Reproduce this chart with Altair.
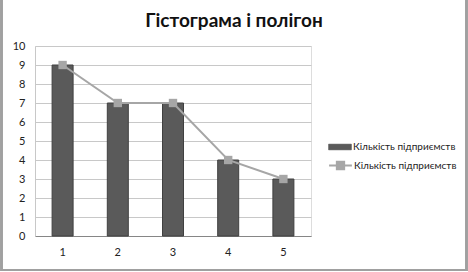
import altair as alt
import pandas as pd

categories = ["1", "2", "3", "4", "5"]
counts = [9, 7, 7, 4, 3]
series_name = "Кількість підприємств"
title_text = "Гістограма і полігон"

FONT = "Lato"

df = pd.DataFrame({"cat": categories, "count": counts, "bar_s": series_name, "line_s": series_name})

x_enc = alt.X("cat:N", sort=categories, scale=alt.Scale(paddingInner=0, paddingOuter=0),
              axis=alt.Axis(title=None, labelAngle=0, ticks=False, labelPadding=10,
                            domainColor="#868686", labelFontSize=11, labelColor="#222",
                            labelFont=FONT))
y_enc = alt.Y("count:Q", scale=alt.Scale(domain=[0, 10]),
              axis=alt.Axis(title=None, values=list(range(0, 11)), ticks=False,
                            labelOverlap=False, labelPadding=10, domainColor="#c8c8c8",
                            gridColor="#c8c8c8", labelFontSize=11, labelColor="#222",
                            labelFont=FONT))

bars = alt.Chart(df).mark_bar(size=21, stroke="#404040", strokeWidth=1).encode(
    x=x_enc, y=y_enc,
    fill=alt.Fill("bar_s:N", scale=alt.Scale(range=["#5a5a5a"]),
                  legend=alt.Legend(title=None, orient="none", legendX=293, legendY=89,
                                    symbolType="M-1,-0.25H1V0.25H-1Z", symbolSize=520,
                                    symbolStrokeColor="#404040", symbolStrokeWidth=0.5,
                                    labelFont=FONT, labelFontSize=10, labelColor="#222",
                                    labelOffset=1, padding=0)),
)

line = alt.Chart(df).mark_line(color="#a6a6a6", strokeWidth=2).encode(
    x=x_enc, y=y_enc,
    stroke=alt.Stroke("line_s:N", scale=alt.Scale(range=["#a6a6a6"]),
                      legend=alt.Legend(title=None, orient="none", legendX=293, legendY=107,
                                        symbolType="M-1,0H1M-0.32,-0.32H0.32V0.32H-0.32Z",
                                        symbolSize=520, symbolFillColor="#a6a6a6",
                                        symbolStrokeWidth=2,
                                        labelFont=FONT, labelFontSize=10, labelColor="#222",
                                        labelOffset=1, padding=0)),
)

points = alt.Chart(df).mark_square(size=70, color="#a6a6a6", opacity=1, filled=True).encode(
    x=x_enc, y=y_enc,
)

border = alt.Chart(df).mark_rect(fill=None, stroke="#a0a0a0", strokeWidth=2, clip=False).encode(
    x=alt.value(-33.5), x2=alt.value(431.5), y=alt.value(-47), y2=alt.value(224),
)

chart = alt.layer(bars, line, points, border).properties(
    width=276, height=190,
    title=alt.Title(title_text, font=FONT, fontSize=19, fontWeight="bold",
                    color="#111", anchor="middle", offset=0, dx=61, dy=33),
    autosize=alt.AutoSizeParams(type="none"),
    padding={"left": 35, "top": 46, "right": 157, "bottom": 36},
).configure_view(stroke=None).configure(background="white")

chart.save("out.html", embed_options={"renderer": "svg", "actions": False})
